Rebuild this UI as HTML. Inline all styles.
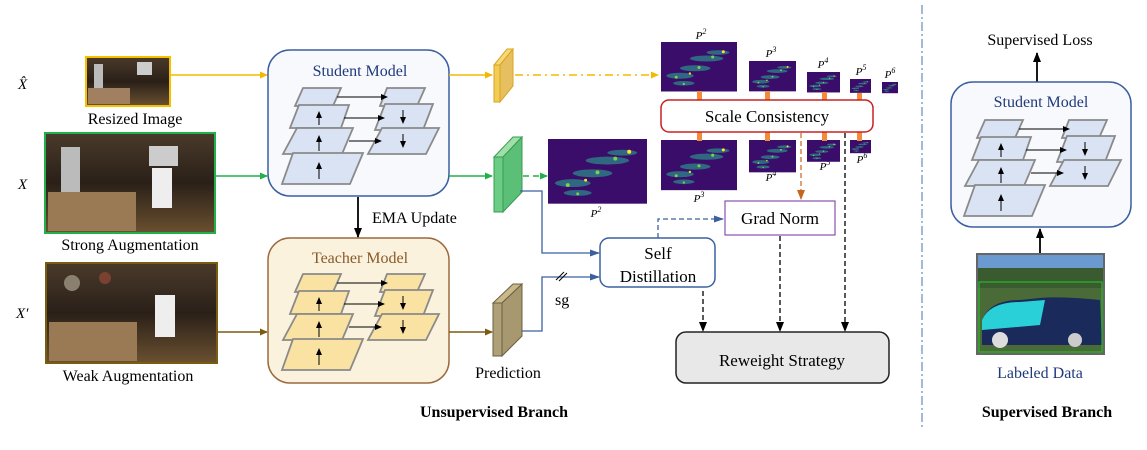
<!DOCTYPE html>
<html><head><meta charset="utf-8"><style>
html,body{margin:0;padding:0;background:#fff;}
svg{display:block;font-family:"Liberation Serif",serif;}
</style></head><body>
<svg width="1147" height="450" viewBox="0 0 1147 450" xmlns="http://www.w3.org/2000/svg">
<defs>
<marker id="ay" markerWidth="8" markerHeight="8" refX="7" refY="4" orient="auto" markerUnits="userSpaceOnUse"><path d="M0,0.5 L8,4 L0,7.5z" fill="#f5b800"/></marker>
<marker id="ag" markerWidth="8" markerHeight="8" refX="7" refY="4" orient="auto" markerUnits="userSpaceOnUse"><path d="M0,0.5 L8,4 L0,7.5z" fill="#22b04a"/></marker>
<marker id="ab" markerWidth="8" markerHeight="8" refX="7" refY="4" orient="auto" markerUnits="userSpaceOnUse"><path d="M0,0.5 L8,4 L0,7.5z" fill="#7a5c10"/></marker>
<marker id="au" markerWidth="10" markerHeight="8" refX="9" refY="4" orient="auto" markerUnits="userSpaceOnUse"><path d="M0,0.5 L10,4 L0,7.5z" fill="#3a60a0"/></marker>
<marker id="ak" markerWidth="10" markerHeight="8" refX="9" refY="4" orient="auto" markerUnits="userSpaceOnUse"><path d="M0,0 L10,4 L0,8z" fill="#000"/></marker>
<marker id="ak2" markerWidth="7" markerHeight="6" refX="6" refY="3" orient="auto" markerUnits="userSpaceOnUse"><path d="M0,0 L7,3 L0,6z" fill="#000"/></marker>
<marker id="ao" markerWidth="10" markerHeight="8" refX="9" refY="4" orient="auto" markerUnits="userSpaceOnUse"><path d="M0,0 L10,4 L0,8z" fill="#c8641e"/></marker>
<g id="fpn" stroke="#8a8a8a" stroke-width="1.8">
 <polygon points="35,38 73,38 65,56 27,56"/>
 <polygon points="31,55 81,55 73,78 22,78"/>
 <polygon points="29,78 85,78 74,104 15,104"/>
 <polygon points="25,103 95,103 82,134 14,134"/>
 <polygon points="119,38 157,38 149,56 112,56"/>
 <polygon points="117,54 165,54 155,80 107,80"/>
 <polygon points="114,78 171,78 158,104 100,104"/>
 <g stroke="#000" stroke-width="1" fill="none">
  <line x1="51" y1="75" x2="51" y2="62" marker-end="url(#ak2)"/>
  <line x1="51" y1="101" x2="51" y2="86" marker-end="url(#ak2)"/>
  <line x1="51" y1="129" x2="51" y2="113" marker-end="url(#ak2)"/>
  <line x1="135" y1="60" x2="135" y2="73" marker-end="url(#ak2)"/>
  <line x1="135" y1="84" x2="135" y2="97" marker-end="url(#ak2)"/>
  <line x1="69" y1="47" x2="119" y2="47" marker-end="url(#ak2)"/>
  <line x1="76" y1="68" x2="116" y2="68" marker-end="url(#ak2)"/>
  <line x1="81" y1="91" x2="113" y2="91" marker-end="url(#ak2)"/>
 </g>
</g>
<g id="hm">
 <rect x="0" y="0" width="100" height="66" fill="#3b0d6b"/>
 <g fill="#2a8f8a" opacity="0.7">
  <ellipse cx="25" cy="45" rx="18" ry="4"/><ellipse cx="45" cy="35" rx="20" ry="4"/><ellipse cx="60" cy="22" rx="22" ry="4"/><ellipse cx="30" cy="55" rx="14" ry="3"/><ellipse cx="75" cy="14" rx="15" ry="3"/>
 </g>
 <g fill="#7ad151"><circle cx="20" cy="47" r="2"/><circle cx="50" cy="34" r="2"/><circle cx="68" cy="20" r="2"/><circle cx="30" cy="56" r="1.5"/></g>
 <g fill="#fde725"><circle cx="82" cy="13" r="2"/><circle cx="38" cy="42" r="1.5"/></g>
</g>
<linearGradient id="img" x1="0" y1="0" x2="0" y2="1"><stop offset="0" stop-color="#4a3a2a"/><stop offset="0.5" stop-color="#2a2018"/><stop offset="1" stop-color="#6a5030"/></linearGradient>
</defs>

<g font-style="italic" font-size="15">
<text x="18" y="89">X̂</text><text x="18" y="189">X</text><text x="16" y="318">X′</text>
</g>

<!-- images -->
<rect x="86" y="57" width="84" height="49" fill="url(#img)" stroke="#f5c000" stroke-width="2"/>
<rect x="94" y="64" width="9" height="24" fill="#bbb"/><rect x="137" y="62" width="15" height="13" fill="#ccc"/>
<rect x="88" y="88" width="42" height="16" fill="#a08060"/>
<text x="135" y="124" font-size="16" text-anchor="middle">Resized Image</text>

<rect x="45" y="133" width="170" height="100" fill="url(#img)" stroke="#22b04a" stroke-width="2"/>
<rect x="61" y="147" width="19" height="50" fill="#bbb"/><rect x="149" y="146" width="29" height="20" fill="#ccc"/>
<rect x="48" y="192" width="88" height="39" fill="#9a7a55"/><rect x="152" y="168" width="20" height="40" fill="#eee"/>
<text x="130" y="250" font-size="16" text-anchor="middle">Strong Augmentation</text>

<rect x="46" y="263" width="171" height="100" fill="url(#img)" stroke="#7a5c10" stroke-width="2"/>
<rect x="49" y="322" width="88" height="39" fill="#9a7a55"/><rect x="155" y="295" width="20" height="42" fill="#eee"/>
<circle cx="72" cy="283" r="8" fill="#8a8070"/><circle cx="105" cy="278" r="6" fill="#7a4030"/>
<text x="128" y="381" font-size="16" text-anchor="middle">Weak Augmentation</text>

<line x1="170" y1="75" x2="267" y2="75" stroke="#f5b800" stroke-width="1.5" marker-end="url(#ay)"/>
<line x1="215" y1="176" x2="267" y2="176" stroke="#22b04a" stroke-width="1.5" marker-end="url(#ag)"/>
<line x1="217" y1="332" x2="267" y2="332" stroke="#7a5c10" stroke-width="1.5" marker-end="url(#ab)"/>

<!-- student -->
<rect x="268" y="50" width="181" height="146" rx="22" fill="#f7f9fd" stroke="#3b5fa0" stroke-width="1.5"/>
<text x="360" y="76" font-size="16" text-anchor="middle" fill="#1f3a7a">Student Model</text>
<use href="#fpn" x="268" y="50" fill="#dae3f3"/>
<!-- teacher -->
<rect x="268" y="238" width="181" height="145" rx="22" fill="#faf2dd" stroke="#9a6a3e" stroke-width="1.5"/>
<text x="360" y="263" font-size="16" text-anchor="middle" fill="#8a5a2a">Teacher Model</text>
<use href="#fpn" x="268" y="236" fill="#fae3a2"/>

<line x1="358" y1="197" x2="358" y2="237" stroke="#000" stroke-width="1.8" marker-end="url(#ak)"/>
<text x="372" y="223" font-size="16">EMA Update</text>

<line x1="449" y1="75" x2="492" y2="75" stroke="#f5b800" stroke-width="1.5" marker-end="url(#ay)"/>
<line x1="449" y1="176" x2="492" y2="176" stroke="#22b04a" stroke-width="1.5" marker-end="url(#ag)"/>
<line x1="449" y1="332" x2="492" y2="332" stroke="#7a5c10" stroke-width="1.5" marker-end="url(#ab)"/>

<!-- yellow block -->
<polygon points="494,65 500,65 513,49 507,49" fill="#f6d87a" stroke="#d9a520"/>
<polygon points="500,65 513,49 513,86 500,102" fill="#e6c060" stroke="#d9a520"/>
<rect x="494" y="65" width="6" height="37" fill="#f2cc55" stroke="#d9a520"/>
<line x1="515" y1="75" x2="658" y2="75" stroke="#f5b800" stroke-width="1.5" stroke-dasharray="8,4,2,4" marker-end="url(#ay)"/>

<!-- green block -->
<polygon points="494,157 503,157 522,137 513,137" fill="#9ee0a8" stroke="#3a9a50"/>
<polygon points="503,157 522,137 522,192 503,212" fill="#5cbf78" stroke="#3a9a50"/>
<rect x="494" y="157" width="9" height="55" fill="#6acc85" stroke="#3a9a50"/>
<line x1="523" y1="176" x2="547" y2="176" stroke="#22b04a" stroke-width="1.5" stroke-dasharray="6,4" marker-end="url(#ag)"/>
<use href="#hm" transform="translate(548,139) scale(0.99,0.98)"/>
<text x="596" y="217" font-size="11" font-style="italic" text-anchor="middle">P<tspan font-size="8" dy="-5">2</tspan></text>

<!-- prediction block -->
<polygon points="493,303 502,303 522,284 513,284" fill="#c9b98a" stroke="#6a6040"/>
<polygon points="502,303 522,284 522,336 502,356" fill="#a89870" stroke="#6a6040"/>
<rect x="493" y="303" width="9" height="53" fill="#b0a078" stroke="#6a6040"/>
<text x="508" y="378" font-size="16" text-anchor="middle">Prediction</text>

<!-- heatmaps top -->
<use href="#hm" transform="translate(661,42) scale(0.76,0.75)"/>
<use href="#hm" transform="translate(749,61) scale(0.47,0.46)"/>
<use href="#hm" transform="translate(807,72) scale(0.33,0.31)"/>
<use href="#hm" transform="translate(850,79) scale(0.21,0.21)"/>
<use href="#hm" transform="translate(882,82) scale(0.16,0.17)"/>
<g font-size="11" font-style="italic" text-anchor="middle">
<text x="701" y="39">P<tspan font-size="8" dy="-5">2</tspan></text>
<text x="771" y="57">P<tspan font-size="8" dy="-5">3</tspan></text>
<text x="823" y="68">P<tspan font-size="8" dy="-5">4</tspan></text>
<text x="861" y="75">P<tspan font-size="8" dy="-5">5</tspan></text>
<text x="890" y="78">P<tspan font-size="8" dy="-5">6</tspan></text>
<text x="699" y="202">P<tspan font-size="8" dy="-5">3</tspan></text>
<text x="771" y="181">P<tspan font-size="8" dy="-5">4</tspan></text>
<text x="825" y="170">P<tspan font-size="8" dy="-5">5</tspan></text>
<text x="862" y="163">P<tspan font-size="8" dy="-5">6</tspan></text>
</g>
<use href="#hm" transform="translate(661,140) scale(0.76,0.76)"/>
<use href="#hm" transform="translate(749,140) scale(0.47,0.49)"/>
<use href="#hm" transform="translate(807,140) scale(0.33,0.33)"/>
<use href="#hm" transform="translate(850,140) scale(0.21,0.2)"/>
<g fill="#f28c3c">
<rect x="697" y="91" width="5" height="50"/><rect x="765" y="91" width="5" height="50"/>
<rect x="822" y="92" width="5" height="49"/><rect x="857" y="93" width="5" height="48"/>
</g>
<rect x="661" y="100" width="212" height="32" rx="8" fill="#fff" stroke="#c82020" stroke-width="1.5"/>
<text x="767" y="122" font-size="17" text-anchor="middle">Scale Consistency</text>

<line x1="801" y1="133" x2="801" y2="199" stroke="#c8641e" stroke-width="1.2" stroke-dasharray="5,3" marker-end="url(#ao)"/>
<rect x="725" y="201" width="110" height="34" fill="#fff" stroke="#8a50b0" stroke-width="1.2"/>
<text x="780" y="224" font-size="17" text-anchor="middle">Grad Norm</text>

<polyline points="520,191 542,191 542,253 599,253" fill="none" stroke="#3a60a0" stroke-width="1.3" marker-end="url(#au)"/>
<polyline points="522,331 542,331 542,277 599,277" fill="none" stroke="#3a60a0" stroke-width="1.3" marker-end="url(#au)"/>
<line x1="556" y1="280" x2="564" y2="272" stroke="#000" stroke-width="1"/>
<line x1="559" y1="281" x2="567" y2="273" stroke="#000" stroke-width="1"/>
<text x="555" y="305" font-size="16">sg</text>
<rect x="600" y="238" width="115" height="49" rx="9" fill="#fff" stroke="#3a60a0" stroke-width="1.5"/>
<text x="658" y="259" font-size="17" text-anchor="middle">Self</text>
<text x="658" y="282" font-size="17" text-anchor="middle">Distillation</text>
<polyline points="658,238 658,219 723,219" fill="none" stroke="#3a60a0" stroke-width="1.3" stroke-dasharray="5,3" marker-end="url(#au)"/>

<g stroke="#000" stroke-width="1.3" stroke-dasharray="5,3" fill="none">
<line x1="703" y1="291" x2="703" y2="331" marker-end="url(#ak)"/>
<line x1="780" y1="236" x2="780" y2="331" marker-end="url(#ak)"/>
<line x1="845" y1="133" x2="845" y2="331" marker-end="url(#ak)"/>
</g>
<rect x="676" y="332" width="213" height="51" rx="10" fill="#e8e8e8" stroke="#222" stroke-width="1.5"/>
<text x="782" y="366" font-size="17" text-anchor="middle">Reweight Strategy</text>

<text x="494" y="417" font-size="16" font-weight="bold" text-anchor="middle">Unsupervised Branch</text>

<line x1="922" y1="5" x2="922" y2="430" stroke="#6a8ac0" stroke-width="1.2" stroke-dasharray="9,3,2,3"/>

<text x="1040" y="45" font-size="16" text-anchor="middle">Supervised Loss</text>
<line x1="1037" y1="82" x2="1037" y2="53" stroke="#000" stroke-width="1.8" marker-end="url(#ak)"/>
<rect x="951" y="82" width="180" height="145" rx="22" fill="#f7f9fd" stroke="#3b5fa0" stroke-width="1.5"/>
<text x="1041" y="107" font-size="16" text-anchor="middle" fill="#1f3a7a">Student Model</text>
<use href="#fpn" x="950" y="82" fill="#dae3f3"/>
<line x1="1040" y1="254" x2="1040" y2="229" stroke="#000" stroke-width="1.8" marker-end="url(#ak)"/>
<rect x="977" y="254" width="127" height="100" fill="#6a9ad0" stroke="#666" stroke-width="2"/>
<rect x="978" y="268" width="125" height="20" fill="#3a5a30"/>
<rect x="978" y="288" width="125" height="65" fill="#4a6a38"/>
<path d="M982,320 Q990,300 1020,300 L1040,298 Q1060,296 1100,300 L1102,345 L982,345z" fill="#1a2a5a"/>
<path d="M982,320 Q990,302 1020,302 L1045,300 L1040,325 L982,330z" fill="#2ad0d8"/>
<circle cx="1000" cy="340" r="8" fill="#ddd"/><circle cx="1075" cy="340" r="7" fill="#ccc"/>
<rect x="979" y="282" width="123" height="70" fill="none" stroke="#2c2" stroke-width="1"/>
<text x="1040" y="378" font-size="16" text-anchor="middle" fill="#1f3a7a">Labeled Data</text>
<text x="1047" y="417" font-size="16" font-weight="bold" text-anchor="middle">Supervised Branch</text>
</svg>
</body></html>
